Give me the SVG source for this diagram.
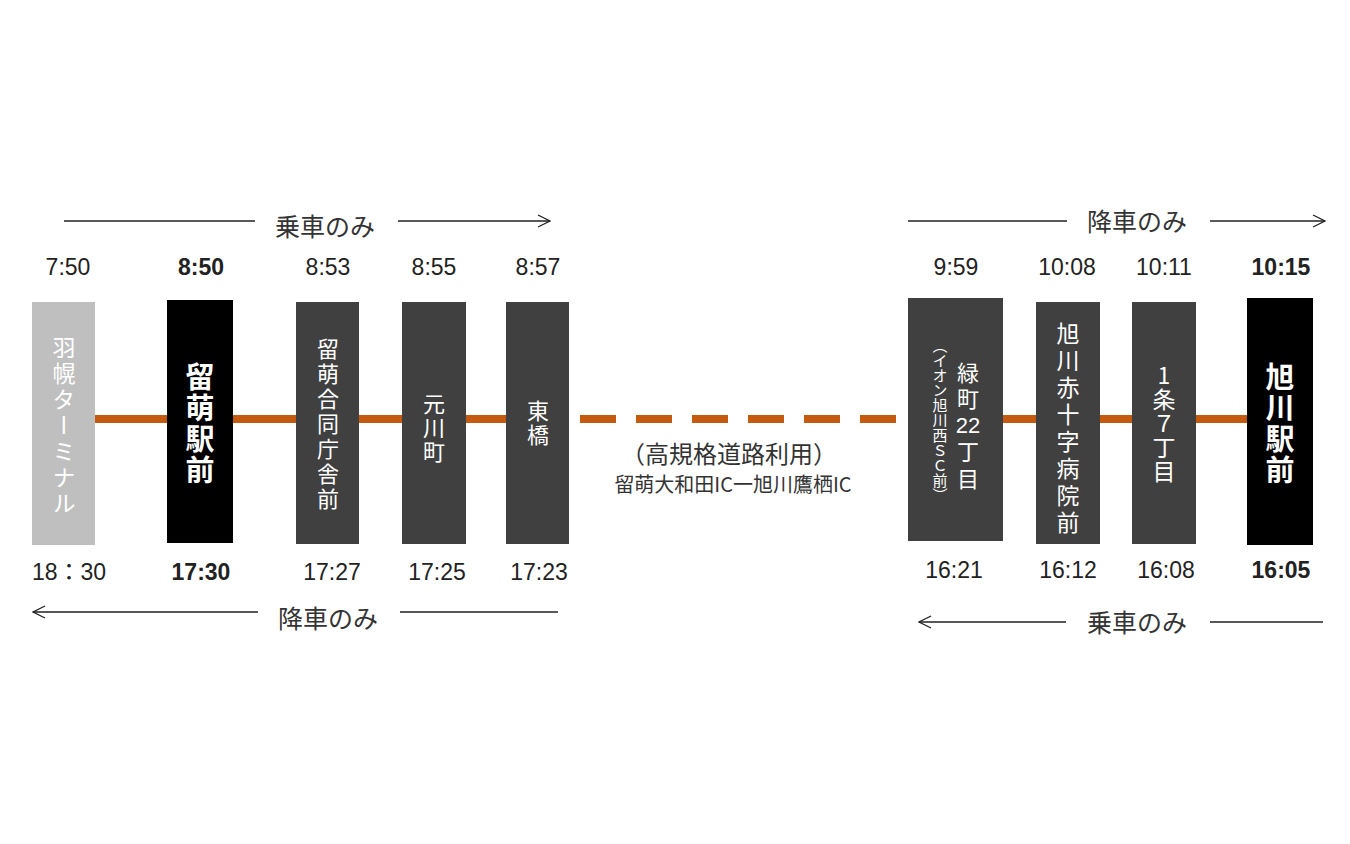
<svg xmlns="http://www.w3.org/2000/svg" width="1350" height="844" viewBox="0 0 1350 844">
<style>
text{font-family:"Noto Sans CJK JP","Noto Sans",sans-serif;}
.t{font-size:23px;fill:#222;text-anchor:middle;font-family:"Liberation Sans","Noto Sans CJK JP",sans-serif}
.tb{font-weight:bold}
.lb{font-size:25px;fill:#333;text-anchor:middle}
.v{fill:#fff;text-anchor:start;writing-mode:vertical-rl;text-orientation:upright}
.ar{stroke:#222;stroke-width:1.3;fill:none}
.box{fill:#404040}
</style>
<defs>
<marker id="ah" markerWidth="14" markerHeight="14" refX="13" refY="7" orient="auto" markerUnits="userSpaceOnUse"><path d="M1,1 L13,7 L1,13" fill="none" stroke="#222" stroke-width="1.3"/></marker>
</defs>
<rect width="1350" height="844" fill="#fff"/>
<g id="connectors">
<line x1="95" y1="419" x2="569" y2="419" stroke="#c55a11" stroke-width="8"/>
<line x1="1003" y1="419" x2="1247" y2="419" stroke="#c55a11" stroke-width="8"/>
<line x1="580" y1="419" x2="900" y2="419" stroke="#c55a11" stroke-width="8" stroke-dasharray="36 20"/>
<line x1="64" y1="221" x2="255" y2="221" class="ar"/>
<line x1="398" y1="221" x2="550" y2="221" class="ar" marker-end="url(#ah)"/>
<line x1="258" y1="612" x2="33" y2="612" class="ar" marker-end="url(#ah)"/>
<line x1="400" y1="612" x2="558" y2="612" class="ar"/>
<line x1="908" y1="221" x2="1067" y2="221" class="ar"/>
<line x1="1210" y1="221" x2="1325" y2="221" class="ar" marker-end="url(#ah)"/>
<line x1="1066" y1="622" x2="919" y2="622" class="ar" marker-end="url(#ah)"/>
<line x1="1210" y1="622" x2="1323" y2="622" class="ar"/>
</g>
<g id="labels">
<text x="325" y="236" class="lb">乗車のみ</text>
<text x="328" y="628" class="lb">降車のみ</text>
<text x="1137" y="231" class="lb">降車のみ</text>
<text x="1137" y="632" class="lb">乗車のみ</text>
<text x="729" y="463" style="font-size:24px;fill:#333;text-anchor:middle">（高規格道路利用）</text>
<text x="733" y="492" style="font-size:20px;fill:#333;text-anchor:middle">留萌大和田IC一旭川鷹栖IC</text>
</g>
<g id="times">
<text x="68" y="275" class="t">7:50</text>
<text x="201" y="275" class="t tb">8:50</text>
<text x="328" y="275" class="t">8:53</text>
<text x="434" y="275" class="t">8:55</text>
<text x="538" y="275" class="t">8:57</text>
<text x="956" y="275" class="t">9:59</text>
<text x="1067" y="275" class="t">10:08</text>
<text x="1164" y="275" class="t">10:11</text>
<text x="1281" y="275" class="t tb">10:15</text>
<text x="69" y="580" class="t">18：30</text>
<text x="201" y="580" class="t tb">17:30</text>
<text x="332" y="580" class="t">17:27</text>
<text x="437" y="580" class="t">17:25</text>
<text x="539" y="580" class="t">17:23</text>
<text x="954" y="578" class="t">16:21</text>
<text x="1068" y="578" class="t">16:12</text>
<text x="1166" y="578" class="t">16:08</text>
<text x="1281" y="578" class="t tb">16:05</text>
</g>
<g id="n1"><rect x="32" y="302" width="63" height="243" fill="#bfbfbf"/><text x="64" y="336" class="v" style="font-size:23px;letter-spacing:3px">羽幌ターミナル</text></g>
<g id="n2"><rect x="167" y="300" width="66" height="243" fill="#000"/><text x="200" y="362" class="v" style="font-size:29px;font-weight:bold;letter-spacing:2px">留萌駅前</text></g>
<g id="n3"><rect x="296" y="302" width="63" height="242" class="box"/><text x="328" y="338" class="v" style="font-size:22px;letter-spacing:3px">留萌合同庁舎前</text></g>
<g id="n4"><rect x="402" y="302" width="64" height="242" class="box"/><text x="434" y="393" class="v" style="font-size:22px;letter-spacing:2px">元川町</text></g>
<g id="n5"><rect x="506" y="302" width="63" height="242" class="box"/><text x="538" y="400" class="v" style="font-size:22px;letter-spacing:2px">東橋</text></g>
<g id="n6"><rect x="908" y="298" width="95" height="243" class="box"/>
<text x="940" y="338" class="v" style="font-size:15px">（イオン旭川西ＳＣ前）</text>
<g style="font-size:22px;fill:#fff;text-anchor:middle">
<text x="968" y="381">緑</text><text x="968" y="407">町</text><text x="968" y="433" style="font-family:'Liberation Sans',sans-serif">22</text><text x="968" y="460">丁</text><text x="968" y="487">目</text></g></g>
<g id="n7"><rect x="1036" y="302" width="64" height="242" class="box"/><text x="1068" y="322" class="v" style="font-size:23px;letter-spacing:4px">旭川赤十字病院前</text></g>
<g id="n8"><rect x="1132" y="302" width="64" height="242" class="box"/><text x="1164" y="364" class="v" style="font-size:23px;letter-spacing:1px">1条７丁目</text></g>
<g id="n9"><rect x="1247" y="298" width="66" height="247" fill="#000"/><text x="1280" y="362" class="v" style="font-size:29px;font-weight:bold;letter-spacing:2px">旭川駅前</text></g>
</svg>
